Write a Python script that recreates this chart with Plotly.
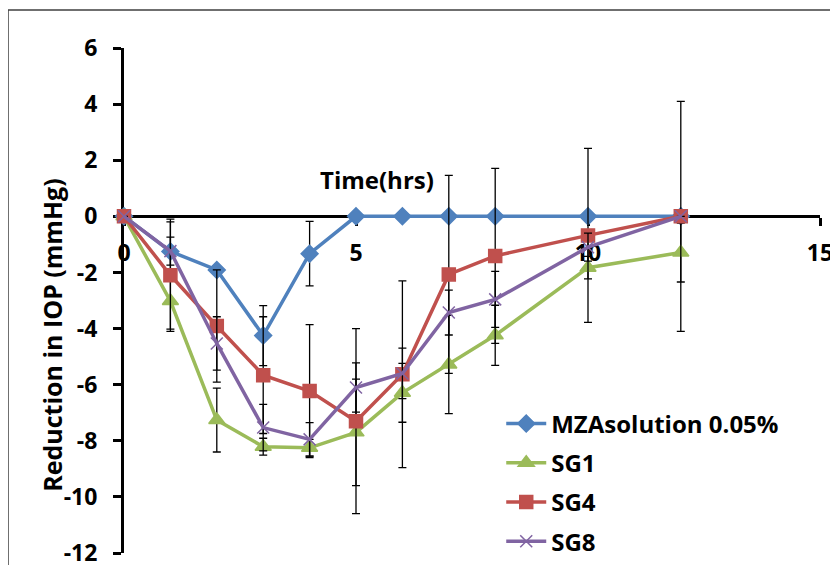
import plotly.graph_objects as go

time_hrs = [0, 1, 2, 3, 4, 5, 6, 7, 8, 10, 12]

series_names = ["MZAsolution 0.05%", "SG1", "SG4", "SG8"]

mza_values = [0, -1.25, -1.91, -4.25, -1.33, 0, 0, 0, 0, 0, 0]
mza_err = [0, 1.05, 0, 1.07, 1.15, 0, 0, 0, 0, 0, 0]

sg1_values = [0, -3.02, -7.26, -8.21, -8.25, -7.7, -6.29, -5.28, -4.24, -1.83, -1.29]
sg1_err = [0, 1.0, 1.14, 0.3, 0.3, 1.9, 1.05, 1.75, 1.07, 0.4, 1.05]

sg4_values = [0, -2.1, -3.91, -5.66, -6.23, -7.3, -5.63, -2.07, -1.41, -0.68, 0]
sg4_err = [0, 2.0, 2.0, 2.08, 2.37, 3.3, 3.33, 3.53, 3.12, 3.1, 4.1]

sg8_values = [0, -1.24, -4.53, -7.53, -7.95, -6.1, -5.6, -3.43, -2.96, -1.1, 0]
sg8_err = [0, 0.5, 0.95, 0.83, 0.6, 0.88, 0.9, 0.8, 1.0, 0.5, 0]

x_ticks = [0, 5, 10, 15]
x_tick_labels = ["0", "5", "10", "15"]
y_ticks = [-12, -10, -8, -6, -4, -2, 0, 2, 4, 6]
y_tick_labels = ["-12", "-10", "-8", "-6", "-4", "-2", "0", "2", "4", "6"]

FONT = "Open Sans"

styles = [
    dict(color="#4F81BD", symbol="diamond", size=13, values=mza_values, err=mza_err),
    dict(color="#9BBB59", symbol="triangle-up", size=14, values=sg1_values, err=sg1_err),
    dict(color="#C0504D", symbol="square", size=13, values=sg4_values, err=sg4_err),
    dict(color="#8064A2", symbol="x-thin-open", size=12, values=sg8_values, err=sg8_err),
]

fig = go.Figure()
for i, (name, st) in enumerate(zip(series_names, styles)):
    fig.add_trace(go.Scatter(
        x=time_hrs, y=st["values"], name=name, mode="lines+markers",
        legendgroup=f"g{i}",
        line=dict(color=st["color"], width=3.5),
        marker=dict(symbol=st["symbol"], size=st["size"], color=st["color"],
                    line=dict(color=st["color"], width=1.5)),
        error_y=dict(type="data", array=st["err"], visible=True,
                     color="black", thickness=1.3, width=4),
        cliponaxis=False,
    ))

# the page adds an 8px margin; margins are chosen so the plot lands where the reference has it
W, H = 830, 565
L, T, R, B = 116, 40, 18, 20
PW, PH = W - L - R, H - T - B

fig.update_layout(
    width=W, height=H,
    margin=dict(l=L, r=R, t=T, b=B, autoexpand=False),
    paper_bgcolor="white", plot_bgcolor="white",
    font=dict(family=FONT, color="black"),
    showlegend=True,
    legend=dict(x=0.542, y=0.300, xanchor="left", yanchor="top",
                font=dict(family=FONT, size=24, color="black", weight=700),
                bgcolor="rgba(0,0,0,0)", traceorder="grouped", tracegroupgap=5,
                itemwidth=40),
    xaxis=dict(range=[0, 15], tickvals=x_ticks, ticktext=x_tick_labels,
               ticks="outside", ticklen=8,
               tickwidth=3, tickcolor="black", showline=True, linecolor="black",
               linewidth=3, showgrid=False, zeroline=False, automargin=False,
               anchor="free", position=12 / 18, side="bottom",
               tickfont=dict(family=FONT, size=23, weight=700),
               ticklabelstandoff=7, ticklabeloverflow="allow",
               layer="below traces"),
    yaxis=dict(range=[-12, 6], tickvals=y_ticks, ticktext=y_tick_labels,
               ticks="outside", ticklen=8,
               tickwidth=3, tickcolor="black", showline=True, linecolor="black",
               linewidth=3, showgrid=False, zeroline=False, automargin=False,
               tickfont=dict(family=FONT, size=23, weight=700),
               ticklabelstandoff=11, ticklabeloverflow="allow",
               layer="below traces"),
    annotations=[
        dict(text="Time(hrs)", x=5.45, y=1.32, xref="x", yref="y",
             xanchor="center", yanchor="middle",
             showarrow=False, font=dict(family=FONT, size=24, weight=700)),
        dict(text="Reduction in IOP (mmHg)", x=(44 - L) / PW, y=0.43,
             xref="paper", yref="paper", textangle=-90, showarrow=False,
             xanchor="center", yanchor="middle",
             font=dict(family=FONT, size=25, weight=700)),
    ],
    shapes=[
        dict(type="rect", xref="paper", yref="paper",
             x0=(0 - L) / PW, x1=(827 - L) / PW,
             y0=(PH + T - 580) / PH, y1=(PH + T - 2) / PH,
             line=dict(color="#404040", width=1.5), layer="below"),
    ],
)

fig.write_html("out.html")
